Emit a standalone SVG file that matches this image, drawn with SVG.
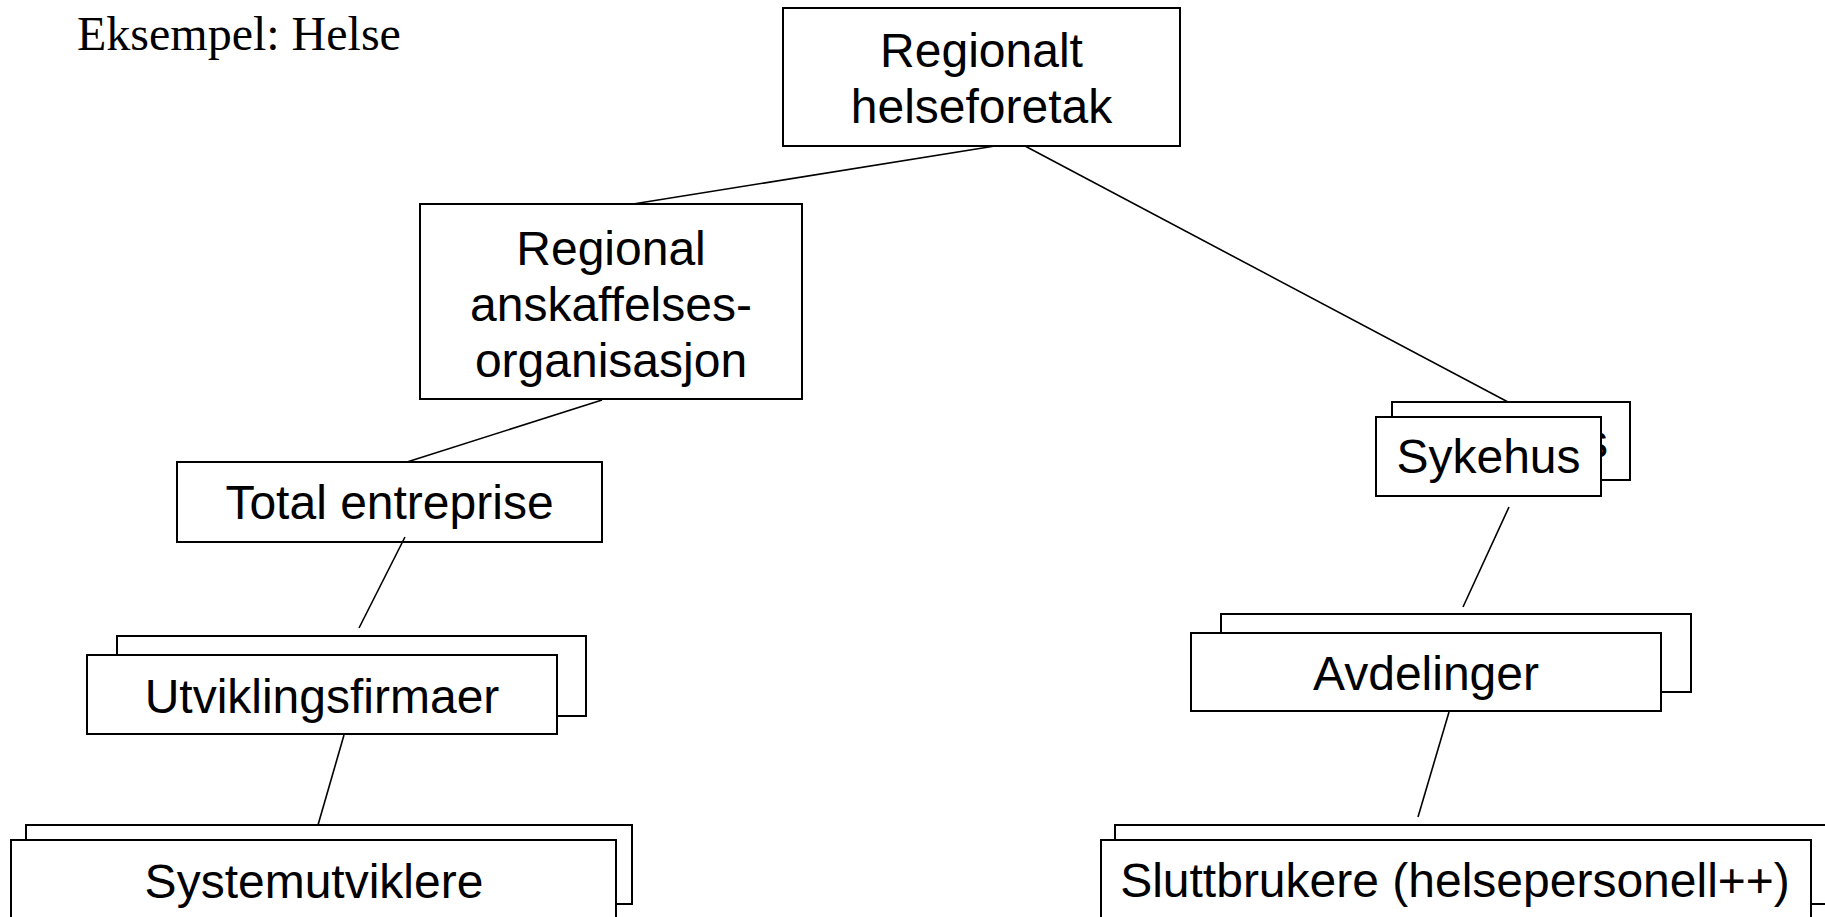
<svg xmlns="http://www.w3.org/2000/svg" width="1825" height="917" viewBox="0 0 1825 917">
<style>
.box{fill:#fff;stroke:#000;stroke-width:2}
.lbl{font-family:"Liberation Sans",Arial,sans-serif;font-size:48px;fill:#000;text-anchor:middle}
.conn line{stroke:#000;stroke-width:1.6}
</style>
<rect width="1825" height="917" fill="#fff"/>
<text x="77" y="50" font-family="Liberation Serif,Times New Roman,serif" font-size="48">Eksempel: Helse</text>
<g id="regionalt-helseforetak">
<rect class="box" x="783" y="8" width="397" height="138"/>
<text class="lbl" x="981.5" y="67">Regionalt</text>
<text class="lbl" x="981.5" y="123">helseforetak</text>
</g>
<g id="regional-anskaffelsesorganisasjon">
<rect class="box" x="420" y="204" width="382" height="195"/>
<text class="lbl" x="611" y="265">Regional</text>
<text class="lbl" x="611" y="321">anskaffelses-</text>
<text class="lbl" x="611" y="377">organisasjon</text>
</g>
<g id="total-entreprise">
<rect class="box" x="177" y="462" width="425" height="80"/>
<text class="lbl" x="389.5" y="519">Total entreprise</text>
</g>
<g id="utviklingsfirmaer">
<rect class="box" x="117" y="636" width="469" height="80"/>
<rect class="box" x="87" y="655" width="470" height="79"/>
<text class="lbl" x="322" y="713">Utviklingsfirmaer</text>
</g>
<g id="systemutviklere">
<rect class="box" x="26" y="825" width="606" height="79"/>
<rect class="box" x="11" y="840" width="605" height="100"/>
<text class="lbl" x="314" y="898">Systemutviklere</text>
</g>
<g id="sykehus">
<rect class="box" x="1392" y="402" width="238" height="78"/>
<text class="lbl" x="1516" y="458">Sykehus</text>
<rect class="box" x="1376" y="417" width="225" height="79"/>
<text class="lbl" x="1488.5" y="473">Sykehus</text>
</g>
<g id="avdelinger">
<rect class="box" x="1221" y="614" width="470" height="78"/>
<rect class="box" x="1191" y="633" width="470" height="78"/>
<text class="lbl" x="1426" y="690">Avdelinger</text>
</g>
<g id="sluttbrukere">
<rect class="box" x="1115" y="825" width="730" height="79"/>
<rect class="box" x="1101" y="840" width="710" height="100"/>
<text class="lbl" x="1455" y="897">Sluttbrukere (helsepersonell++)</text>
</g>
<g id="connectors" class="conn">
<line x1="995" y1="146" x2="633" y2="204"/>
<line x1="1025" y1="146" x2="1508" y2="402"/>
<line x1="602" y1="400" x2="407" y2="462"/>
<line x1="405" y1="537" x2="359" y2="628"/>
<line x1="344" y1="735" x2="318" y2="825"/>
<line x1="1509" y1="507" x2="1463" y2="607"/>
<line x1="1449" y1="712" x2="1418" y2="817"/>
</g>
</svg>
